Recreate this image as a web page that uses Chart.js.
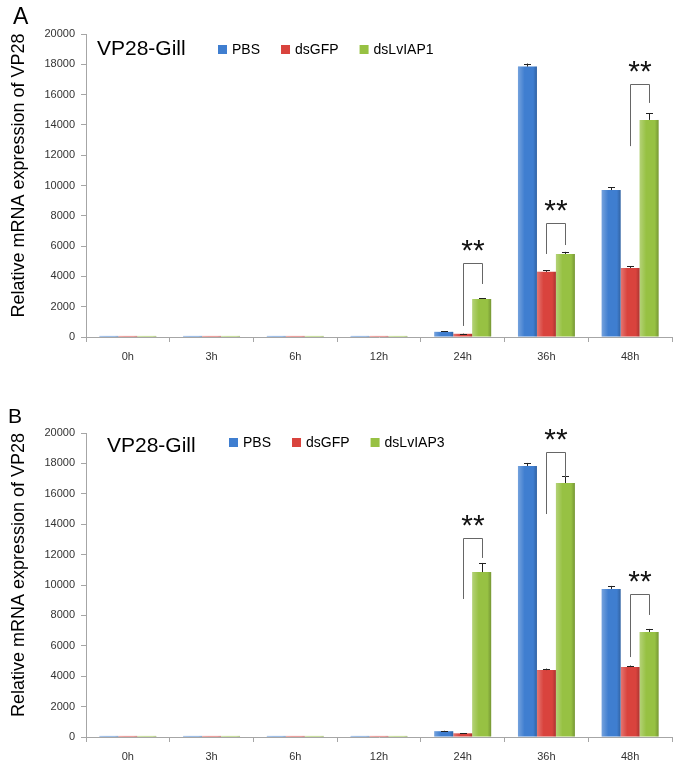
<!DOCTYPE html>
<html>
<head>
<meta charset="utf-8">
<script src="https://cdn.jsdelivr.net/npm/chart.js@4.4.0/dist/chart.umd.min.js"></script>
<style>
  body { margin: 0; background: #fff; }
  .panel { position: absolute; left: 0; width: 683px; }
</style>
</head>
<body>
<div class="panel" style="top:0;height:384px"><canvas id="chartA"></canvas></div>
<div class="panel" style="top:384px;height:383px"><canvas id="chartB"></canvas></div>
<script>
const categories = ["0h", "3h", "6h", "12h", "24h", "36h", "48h"];

// panel A
const pbsA = [70, 70, 70, 70, 340, 17850, 9700];
const dsgfpA = [70, 70, 70, 70, 210, 4300, 4560];
const dslviap1 = [70, 70, 70, 70, 2510, 5480, 14330];
const pbsErrA = [0, 0, 0, 0, 30, 200, 200];
const dsgfpErrA = [0, 0, 0, 0, 20, 120, 100];
const dslviap1ErrA = [0, 0, 0, 0, 40, 140, 450];

// panel B
const pbsB = [70, 70, 70, 70, 380, 17830, 9740];
const dsgfpB = [70, 70, 70, 70, 240, 4400, 4600];
const dslviap3 = [70, 70, 70, 70, 10850, 16710, 6910];
const pbsErrB = [0, 0, 0, 0, 30, 200, 200];
const dsgfpErrB = [0, 0, 0, 0, 20, 100, 100];
const dslviap3ErrB = [0, 0, 0, 0, 600, 450, 200];

// significance brackets (category index, left leg bottom, bracket top, right leg bottom)
const sigIndexA = [4, 5, 6];
const sigLeftA = [730, 5480, 12600];
const sigTopA = [4890, 7530, 16700];
const sigRightA = [3500, 6070, 15450];

const sigIndexB = [4, 5, 6];
const sigLeftB = [9080, 14670, 5260];
const sigTopB = [13090, 18750, 9410];
const sigRightB = [11780, 17100, 8030];

const yTicks = [0, 2000, 4000, 6000, 8000, 10000, 12000, 14000, 16000, 18000, 20000];

const colBlue = "#3f7ed0";
const colRed = "#d9433d";
const colGreen = "#97c143";
const FONT = "'Liberation Sans', Arial, sans-serif";

const panelDecor = {
  id: "panelDecor",
  afterDatasetsDraw(chart, args, opts) {
    const ctx = chart.ctx;
    const ys = chart.scales.y;
    ctx.save();
    chart.data.datasets.forEach((ds, di) => {
      const meta = chart.getDatasetMeta(di);
      meta.data.forEach((bar, i) => {
        const l = bar.x - bar.width / 2, r = bar.x + bar.width / 2;
        const g = ctx.createLinearGradient(l, 0, r, 0);
        g.addColorStop(0, "rgba(255,255,255,0.28)");
        g.addColorStop(0.35, "rgba(255,255,255,0)");
        g.addColorStop(0.8, "rgba(0,0,0,0)");
        g.addColorStop(1, "rgba(0,0,0,0.22)");
        ctx.fillStyle = g;
        ctx.fillRect(l, bar.y, r - l, bar.base - bar.y);
        const e = ds.errors[i];
        if (e > 0) {
          const y0 = ys.getPixelForValue(ds.data[i]);
          const y1 = ys.getPixelForValue(ds.data[i] + e);
          ctx.strokeStyle = "#222";
          ctx.lineWidth = 1;
          ctx.beginPath();
          ctx.moveTo(Math.round(bar.x) + 0.5, y0);
          ctx.lineTo(Math.round(bar.x) + 0.5, y1);
          ctx.moveTo(Math.round(bar.x) - 3, Math.round(y1) + 0.5);
          ctx.lineTo(Math.round(bar.x) + 4, Math.round(y1) + 0.5);
          ctx.stroke();
        }
      });
    });

    // brackets and stars
    const m1 = chart.getDatasetMeta(1), m2 = chart.getDatasetMeta(2);
    opts.sigIndex.forEach((ci, k) => {
      const xl = Math.round(m1.data[ci].x) + 0.5;
      const xr = Math.round(m2.data[ci].x) + 0.5;
      const yl = ys.getPixelForValue(opts.sigLeft[k]);
      const yt = Math.round(ys.getPixelForValue(opts.sigTop[k])) + 0.5;
      const yr = ys.getPixelForValue(opts.sigRight[k]);
      ctx.strokeStyle = "#666";
      ctx.lineWidth = 1;
      ctx.beginPath();
      ctx.moveTo(xl, yl);
      ctx.lineTo(xl, yt);
      ctx.lineTo(xr, yt);
      ctx.lineTo(xr, yr);
      ctx.stroke();
      ctx.fillStyle = "#111";
      ctx.font = "30px " + FONT;
      ctx.textAlign = "center";
      ctx.textBaseline = "middle";
      ctx.fillText("**", (xl + xr) / 2, yt - 12);
    });

    // panel letter, subtitle, legend, y title
    ctx.fillStyle = "#000";
    ctx.textAlign = "left";
    ctx.textBaseline = "alphabetic";
    ctx.font = opts.letterSize + "px " + FONT;
    ctx.fillText(opts.letter, opts.letterX, opts.letterY);
    ctx.font = "21px " + FONT;
    ctx.fillText("VP28-Gill", opts.nameX, opts.nameY);

    ctx.font = "14px " + FONT;
    let x = opts.legendX;
    chart.data.datasets.forEach(ds => {
      ctx.fillStyle = ds.backgroundColor;
      ctx.fillRect(x, opts.legendY - 9, 9, 9);
      ctx.fillStyle = "#000";
      ctx.fillText(ds.label, x + 14, opts.legendY);
      x += 14 + ctx.measureText(ds.label).width + 21;
    });

    const ca = chart.chartArea;
    ctx.save();
    ctx.translate(19, (ca.top + ca.bottom) / 2 - 10);
    ctx.rotate(-Math.PI / 2);
    ctx.textAlign = "center";
    ctx.textBaseline = "middle";
    ctx.font = "18px " + FONT;
    ctx.fillText("Relative mRNA expression of VP28", 0, 0);
    ctx.restore();
    ctx.restore();
  }
};

function makeBarChart(canvasId, series, errors, labels, topPad, xHeight, decor) {
  const colors = [colBlue, colRed, colGreen];
  return new Chart(document.getElementById(canvasId).getContext("2d"), {
    type: "bar",
    data: {
      labels: categories,
      datasets: series.map((s, k) => ({
        label: labels[k],
        data: s,
        errors: errors[k],
        backgroundColor: colors[k],
        borderWidth: 0,
        categoryPercentage: 0.68,
        barPercentage: 1.0
      }))
    },
    options: {
      responsive: true,
      maintainAspectRatio: false,
      animation: false,
      layout: { padding: { top: topPad, right: 11, left: 0, bottom: 0 } },
      plugins: {
        legend: { display: false },
        tooltip: { enabled: false },
        panelDecor: decor
      },
      scales: {
        x: {
          afterFit: s => { s.height = xHeight; },
          grid: { drawOnChartArea: false, tickLength: 5, color: "#a6a6a6", offset: true },
          border: { color: "#a6a6a6" },
          ticks: { color: "#333", font: { family: FONT, size: 11 }, padding: 8 }
        },
        y: {
          min: 0,
          max: 20000,
          afterFit: s => { s.width = 86; },
          afterBuildTicks: s => { s.ticks = yTicks.map(v => ({ value: v })); },
          grid: { drawOnChartArea: false, tickLength: 5, color: "#a6a6a6" },
          border: { color: "#a6a6a6" },
          ticks: {
            color: "#333",
            font: { family: FONT, size: 11 },
            padding: 6,
            callback: v => String(v)
          }
        }
      }
    },
    plugins: [panelDecor]
  });
}

const chartA = makeBarChart("chartA",
  [pbsA, dsgfpA, dslviap1],
  [pbsErrA, dsgfpErrA, dslviap1ErrA],
  ["PBS", "dsGFP", "dsLvIAP1"],
  34, 47,
  { sigIndex: sigIndexA, sigLeft: sigLeftA, sigTop: sigTopA, sigRight: sigRightA,
    letter: "A", letterSize: 23, letterX: 13, letterY: 24,
    nameX: 97, nameY: 55, legendX: 218, legendY: 54 });

const chartB = makeBarChart("chartB",
  [pbsB, dsgfpB, dslviap3],
  [pbsErrB, dsgfpErrB, dslviap3ErrB],
  ["PBS", "dsGFP", "dsLvIAP3"],
  49, 30,
  { sigIndex: sigIndexB, sigLeft: sigLeftB, sigTop: sigTopB, sigRight: sigRightB,
    letter: "B", letterSize: 21, letterX: 8, letterY: 39,
    nameX: 107, nameY: 68, legendX: 229, legendY: 63 });
</script>
</body>
</html>
